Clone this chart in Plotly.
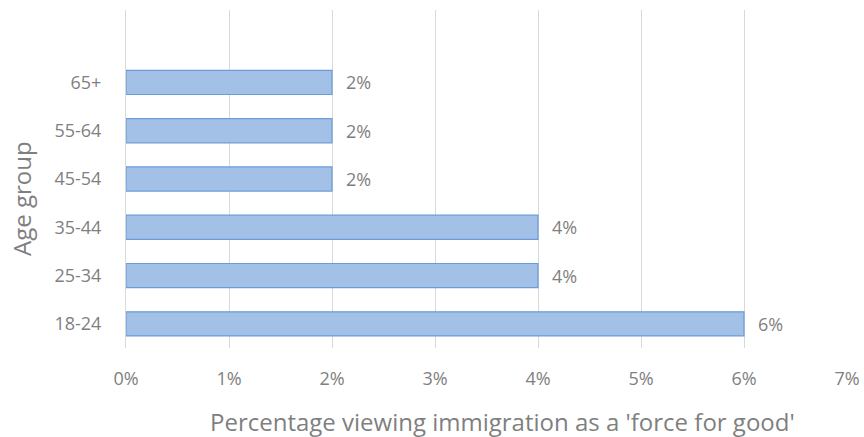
import plotly.graph_objects as go

age_groups = ["18-24", "25-34", "35-44", "45-54", "55-64", "65+"]
values = [0.06, 0.04, 0.04, 0.02, 0.02, 0.02]
labels = ["6%", "4%", "4%", "2%", "2%", "2%"]
x_ticks = [0, 0.01, 0.02, 0.03, 0.04, 0.05, 0.06, 0.07]
x_tick_text = ["0%", "1%", "2%", "3%", "4%", "5%", "6%", "7%"]
x_title = "Percentage viewing immigration as a 'force for good'"
y_title = "Age group"

grey = "#7f7f7f"
font_family = "Open Sans, Noto Sans, sans-serif"

fig = go.Figure(go.Bar(
    y=age_groups,
    x=values,
    orientation="h",
    width=0.5,
    marker=dict(color="#a3c0e7", line=dict(color="#6b9cd8", width=1.2)),
    hoverinfo="x+y",
))

for cat, val, lab in zip(age_groups, values, labels):
    fig.add_annotation(
        x=val, y=cat, text=lab, showarrow=False,
        xanchor="left", xshift=12,
        font=dict(color=grey, size=18, family=font_family),
    )

# axis titles (placed as in the reference)
fig.add_annotation(
    text=x_title, xref="paper", yref="paper", x=0.5215, y=0,
    xanchor="center", yanchor="middle", yshift=-73, showarrow=False,
    font=dict(size=24, color=grey, family=font_family),
)
fig.add_annotation(
    text=y_title, xref="paper", yref="paper", x=0, y=0.441,
    xanchor="center", yanchor="middle", xshift=-104, textangle=-90,
    showarrow=False, font=dict(size=24, color=grey, family=font_family),
)

fig.update_layout(
    width=864, height=437,
    margin=dict(l=126, r=17, t=10, b=89),
    paper_bgcolor="white", plot_bgcolor="white",
    showlegend=False,
    font=dict(family=font_family, color=grey, size=18),
    xaxis=dict(
        range=[0, 0.07],
        tickvals=x_ticks, ticktext=x_tick_text,
        showgrid=True, gridcolor="#d9d9d9", gridwidth=1,
        zeroline=False, showline=False,
        automargin=False,
        ticklabelstandoff=18,
        tickfont=dict(size=18, color=grey),
    ),
    yaxis=dict(
        range=[-0.5, 6.5],
        categoryorder="array", categoryarray=age_groups,
        showgrid=False, zeroline=False,
        showline=True, linecolor="#d9d9d9", linewidth=1,
        automargin=False,
        ticklabelstandoff=20,
        tickfont=dict(size=18, color=grey),
    ),
)

fig.write_html("out.html", config={"displayModeBar": False})

# remove the default 8px body margin so the figure sits at the window's corner
with open("out.html", encoding="utf-8") as f:
    html = f.read()
html = html.replace("<head>", "<head><style>body{margin:0;}</style>", 1)
with open("out.html", "w", encoding="utf-8") as f:
    f.write(html)
